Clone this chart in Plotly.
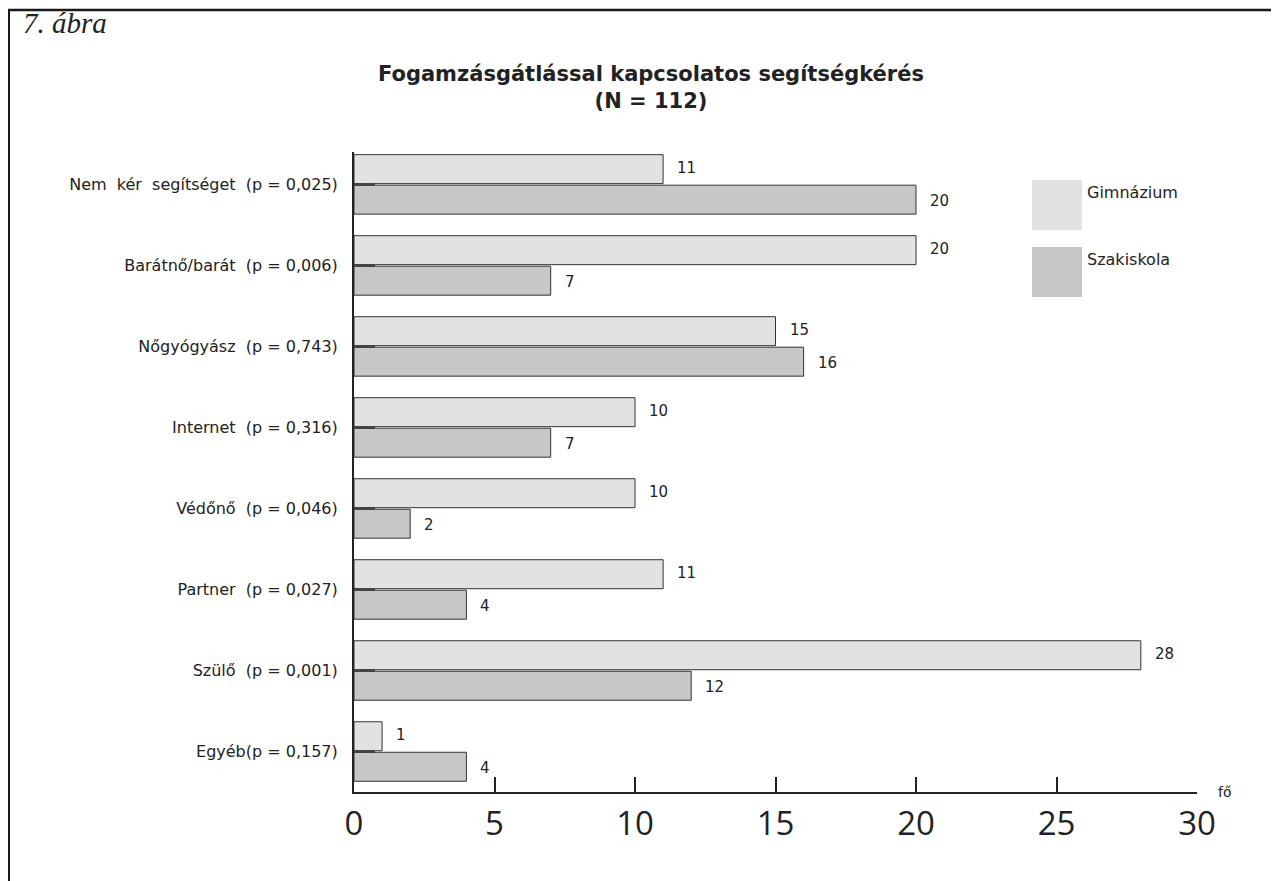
import plotly.graph_objects as go

categories = [
    "Nem kér segítséget (p = 0,025)",
    "Barátnő/barát (p = 0,006)",
    "Nőgyógyász (p = 0,743)",
    "Internet (p = 0,316)",
    "Védőnő (p = 0,046)",
    "Partner (p = 0,027)",
    "Szülő (p = 0,001)",
    "Egyéb(p = 0,157)",
]
gimnazium = [11, 20, 15, 10, 10, 11, 28, 1]
szakiskola = [20, 7, 16, 7, 2, 4, 12, 4]
x_ticks = [0, 5, 10, 15, 20, 25, 30]

# page has an 8px body margin: figure is placed at (8, 8)
OFF = 8
W, H = 1279 - OFF, 881 - OFF
# plot area in page pixels (as measured on the reference)
L, R, T, B = 354, 1197, 152, 792
PW, PH = R - L, B - T


def px(x):
    return (x - L) / PW


def py(y):
    return (B - y) / PH


LIGHT = "#e1e2e4"
DARK = "#c6c7c9"
LINE = "#333333"
TXT = "#222222"
FONT = "DejaVu Sans"

# wider word spacing as in the reference labels
ticktext = [c.replace(" ", "\u00a0 ").replace("(p\u00a0 =\u00a0 ", "(p = ").replace("=\u00a0 ", "= ")
            for c in categories]

fig = go.Figure()
# Szakiskola first so that it appears below Gimnázium in each group
fig.add_trace(go.Bar(y=categories, x=szakiskola, orientation="h", name="Szakiskola",
                     marker=dict(color=DARK, line=dict(color=LINE, width=1))))
fig.add_trace(go.Bar(y=categories, x=gimnazium, orientation="h", name="Gimnázium",
                     marker=dict(color=LIGHT, line=dict(color=LINE, width=1))))

annotations = []
for c, v in zip(categories, gimnazium):
    annotations.append(dict(x=v, y=c, xref="x", yref="y", text=str(v), showarrow=False,
                            xanchor="left", yanchor="middle", xshift=12, yshift=16,
                            font=dict(family=FONT, size=15, color=TXT)))
for c, v in zip(categories, szakiskola):
    annotations.append(dict(x=v, y=c, xref="x", yref="y", text=str(v), showarrow=False,
                            xanchor="left", yanchor="middle", xshift=12, yshift=-17,
                            font=dict(family=FONT, size=15, color=TXT)))

# figure label, title, unit
annotations.append(dict(x=px(21), y=py(23), xref="paper", yref="paper", text="<i>7. ábra</i>",
                        showarrow=False, xanchor="left", yanchor="middle",
                        font=dict(family="Liberation Serif", size=29, color=TXT)))
annotations.append(dict(x=px(651), y=py(87), xref="paper", yref="paper",
                        text="<b>Fogamzásgátlással kapcsolatos segítségkérés<br>(N = 112)</b>",
                        showarrow=False, xanchor="center", yanchor="middle",
                        font=dict(family=FONT, size=21, color=TXT)))
annotations.append(dict(x=px(1225), y=py(792), xref="paper", yref="paper", text="fő",
                        showarrow=False, xanchor="center", yanchor="middle",
                        font=dict(family=FONT, size=14, color=TXT)))

# legend (custom)
shapes = []
for name, col, y0 in [("Gimnázium", LIGHT, 180), ("Szakiskola", DARK, 247)]:
    shapes.append(dict(type="rect", xref="paper", yref="paper", x0=px(1032), x1=px(1082),
                       y0=py(y0), y1=py(y0 + 50), fillcolor=col, line=dict(width=0)))
    annotations.append(dict(x=px(1085), y=py(y0 + 1), xref="paper", yref="paper", text=name,
                            showarrow=False, xanchor="left", yanchor="top",
                            font=dict(family=FONT, size=16, color=TXT)))

# frame
shapes.append(dict(type="line", xref="paper", yref="paper", x0=px(8), x1=px(1300),
                   y0=py(10), y1=py(10), line=dict(color="#1a1a1a", width=2.5)))
shapes.append(dict(type="line", xref="paper", yref="paper", x0=px(9), x1=px(9),
                   y0=py(10), y1=py(900), line=dict(color="#1a1a1a", width=2)))

fig.update_layout(
    width=W, height=H,
    margin=dict(l=L - OFF, r=W - (R - OFF), t=T - OFF, b=H - (B - OFF), pad=0),
    paper_bgcolor="white", plot_bgcolor="white",
    barmode="group", bargap=0.247, bargroupgap=0.05,
    showlegend=False,
    annotations=annotations, shapes=shapes,
    xaxis=dict(range=[0, 30], tickvals=x_ticks, ticktext=[str(t) for t in x_ticks],
               showgrid=False, zeroline=False, showline=True, linecolor=TXT, linewidth=2,
               ticks="inside", ticklen=15, tickwidth=2, tickcolor=TXT,
               tickfont=dict(family="Open Sans", size=33, color=TXT), ticklabelstandoff=1,
               fixedrange=True),
    yaxis=dict(type="category", categoryorder="array", categoryarray=categories[::-1],
               tickvals=categories, ticktext=ticktext,
               range=[-0.5, 7.4], showgrid=False, zeroline=False, showline=True,
               linecolor=TXT, linewidth=2, ticks="inside", ticklen=21, tickwidth=3,
               tickcolor="#444444", tickfont=dict(family=FONT, size=16, color=TXT),
               ticklabelstandoff=11, fixedrange=True),
)

fig.write_html("out.html")
